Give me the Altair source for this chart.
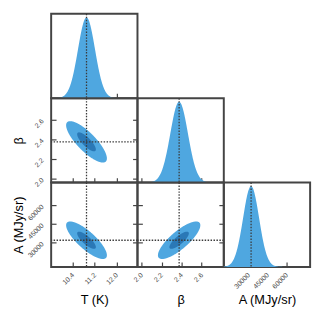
import altair as alt
import numpy as np
import pandas as pd

# ---- values ----
titles = ["T (K)", "β", "A (MJy/sr)"]
means = [10.90, 2.375, 32000]
sigmas = [0.31, 0.088, 6300]
correlations = {(0, 1): -0.80, (0, 2): -0.80, (1, 2): 0.80}
truths = [10.90, 2.375, 32000]
domains = [[9.61, 12.76], [1.96, 2.82], [10500, 78500]]
tick_values = [[10.4, 11.2, 12.0], [2.0, 2.2, 2.4, 2.6], [30000, 45000, 60000]]
tick_formats = [".1f", ".1f", "d"]
contour_radii = [2.4, 1.1]          # outer, inner contour (in sigma units)
contour_colors = ["#4fa7e0", "#2a78b6"]
density_color = "#4fa7e0"

W, H = 88, 86
AX = "#444444"
FONT = "Liberation Sans"


def density_df(i):
    x = np.linspace(domains[i][0], domains[i][1], 300)
    d = np.exp(-0.5 * ((x - means[i]) / sigmas[i]) ** 2)
    return pd.DataFrame({"x": x, "d": d})


def ellipse_df(i, j, rho, r):
    t = np.linspace(np.pi, 0, 181)
    u = r * np.cos(t)
    half = np.sqrt(np.clip((1 - rho ** 2) * (r ** 2 - u ** 2), 0, None))
    return pd.DataFrame({
        "x": means[i] + sigmas[i] * u,
        "y": means[j] + sigmas[j] * (rho * u - half),
        "y2": means[j] + sigmas[j] * (rho * u + half),
    })


def label_axis(i, orient):
    common = dict(values=tick_values[i], format=tick_formats[i], labelAngle=315,
                  labelAlign="right", labelBaseline="middle",
                  ticks=False, domain=False, grid=False, title=titles[i],
                  labelFontSize=7, labelColor="#4a4a4a", labelFont=FONT,
                  titleFontSize=13, titleFontWeight="normal", titleColor="#000000",
                  titleFont=FONT, orient=orient, titleAlign="center",
                  titleBaseline="middle")
    if orient == "bottom":
        return alt.Axis(labelPadding=7, titleX=W / 2, titleY=33, **common)
    return alt.Axis(labelPadding=9, titleX=-33, titleY=H / 2, titleAngle=270, **common)


def tick_axis(i, orient):
    return alt.Axis(values=tick_values[i], labels=False, domain=False, grid=False,
                    ticks=True, tickSize=alt.ExprRef(expr="-5"), tickColor=AX,
                    tickWidth=1.2, title=None, orient=orient)


def rule_layer(v, ch, scale):
    df = pd.DataFrame({"v": [v]})
    base = alt.Chart(df).mark_rule(strokeDash=[1.5, 1.5], color="#3a3a3a", strokeWidth=1.3)
    if ch == "x":
        return base.encode(x=alt.X("v:Q", scale=scale, axis=None))
    return base.encode(y=alt.Y("v:Q", scale=scale, axis=None))


def panel(r, c):
    i = c
    xs = alt.Scale(domain=domains[i], nice=False, zero=False)
    xlab = label_axis(i, "bottom") if r == 2 else None
    layers = []
    if r == c:
        df = density_df(i)
        ys = alt.Scale(domain=[0, 1.045], nice=False, zero=False)
        layers.append(alt.Chart(df).mark_area(color=density_color, clip=True).encode(
            x=alt.X("x:Q", scale=xs, axis=xlab),
            y=alt.Y("d:Q", scale=ys, axis=None)))
        layers.append(rule_layer(truths[i], "x", xs))
        layers.append(alt.Chart(df).mark_point(opacity=0).encode(
            x=alt.X("x:Q", scale=xs, axis=tick_axis(i, "bottom")),
            y=alt.Y("d:Q", scale=ys, axis=None)))
    else:
        j = r
        rho = correlations[(i, j)]
        ys = alt.Scale(domain=domains[j], nice=False, zero=False)
        ylab = label_axis(j, "left") if c == 0 else None
        outer = ellipse_df(i, j, rho, contour_radii[0])
        inner = ellipse_df(i, j, rho, contour_radii[1])
        layers.append(alt.Chart(outer).mark_area(color=contour_colors[0], clip=True).encode(
            x=alt.X("x:Q", scale=xs, axis=xlab),
            y=alt.Y("y:Q", scale=ys, axis=ylab),
            y2="y2:Q"))
        layers.append(alt.Chart(inner).mark_area(color=contour_colors[1], clip=True).encode(
            x=alt.X("x:Q", scale=xs, axis=None),
            y=alt.Y("y:Q", scale=ys, axis=None),
            y2="y2:Q"))
        layers.append(rule_layer(truths[i], "x", xs))
        layers.append(rule_layer(truths[j], "y", ys))
        layers.append(alt.Chart(outer).mark_point(opacity=0).encode(
            x=alt.X("x:Q", scale=xs, axis=tick_axis(i, "bottom")),
            y=alt.Y("y:Q", scale=ys, axis=tick_axis(j, "left"))))
        layers.append(alt.Chart(outer).mark_point(opacity=0).encode(
            x=alt.X("x:Q", scale=xs, axis=None),
            y=alt.Y("y:Q", scale=ys, axis=tick_axis(j, "right"))))
    return alt.layer(*layers).resolve_axis(x="independent", y="independent").properties(
        width=W, height=H, view=alt.ViewBackground(stroke=AX, strokeWidth=2))


def empty():
    return alt.Chart(pd.DataFrame({"x": [0]})).mark_point(opacity=0).encode(
        x=alt.X("x:Q", axis=None), y=alt.Y("x:Q", axis=None)).properties(
        width=W, height=H, view=alt.ViewBackground(stroke="transparent"))


cells = []
for r in range(3):
    for c in range(3):
        cells.append(panel(r, c) if c <= r else empty())

chart = alt.concat(*cells, columns=3, spacing=0, bounds="flush").properties(
    padding={"left": 4, "top": 1, "right": 2, "bottom": 2}
).configure(font=FONT).configure_view(stroke=AX, strokeWidth=2)

chart.save("out.html", embed_options={"renderer": "svg", "actions": False})
